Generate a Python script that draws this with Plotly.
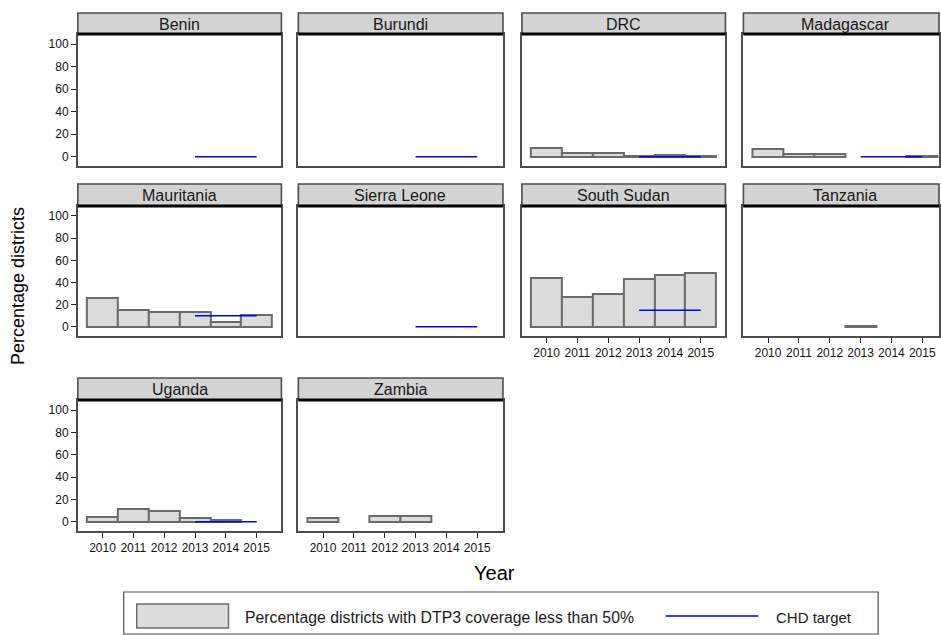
import plotly.graph_objects as go

# Years shown on every panel
years = [2010, 2011, 2012, 2013, 2014, 2015]
tick_labels = ["2010", "2011", "2012", "2013", "2014", "2015"]

# Percentage of districts with DTP3 coverage below 50% (None = no data)
benin = [None, None, None, None, None, None]
burundi = [None, None, None, None, None, None]
drc = [8, 3, 3, 0.3, 1.5, 0.5]
madagascar = [6.5, 2, 2, None, None, 0.3]
mauritania = [26, 15, 13, 13, 4, 11]
sierra_leone = [None, None, None, None, None, None]
south_sudan = [44, 27, 30, 43.5, 46.5, 48.5]
tanzania = [None, None, None, 0.5, None, None]
uganda = [4, 11, 10, 3, 2, None]
zambia = [3, None, 5, 5, None, None]

# CHD target level (drawn over 2013-2015); None = no target
target_years = [2013, 2015]
targets = [0, 0, 0, 0, 10, 0, 15, None, 0, None]

countries = ["Benin", "Burundi", "DRC", "Madagascar", "Mauritania",
             "Sierra Leone", "South Sudan", "Tanzania", "Uganda", "Zambia"]
series = [benin, burundi, drc, madagascar, mauritania,
          sierra_leone, south_sudan, tanzania, uganda, zambia]

W, H = 941, 635


def fx(px):
    return px / W


def fy(py):
    return 1 - py / H


# Panel geometry in pixels
col_x = [(78, 282), (299, 504), (523, 727), (745, 941)]
row_plot = [(34, 166), (206, 336), (400, 531)]
row_strip = [(13, 34), (184, 206), (378, 400)]
px_per_year = 30.9
x_left = 2009.2

FONT = "Liberation Sans, Arial, sans-serif"
BAR_FILL = "#dcdcdc"
BAR_LINE = "#6b6b6b"
FRAME = "#4d4d4d"

fig = go.Figure()
shapes = []
annotations = []
bottom_panels = {6, 7, 8, 9}

for i, (name, vals, tgt) in enumerate(zip(countries, series, targets)):
    r, c = divmod(i, 4)
    ax = "" if i == 0 else str(i + 1)
    xa, ya = "x" + ax, "y" + ax
    x0p, x1p = col_x[c]
    top, bot = row_plot[r]
    x_right = x_left + (x1p - x0p) / px_per_year

    xs = [y for y, v in zip(years, vals) if v is not None]
    ys = [v for v in vals if v is not None]
    if xs:
        fig.add_trace(go.Bar(
            x=xs, y=ys, width=1, xaxis=xa, yaxis=ya,
            marker=dict(color=BAR_FILL, line=dict(color=BAR_LINE, width=2)),
            showlegend=False, hoverinfo="x+y"))
    if tgt is not None:
        fig.add_trace(go.Scatter(
            x=target_years, y=[tgt, tgt], mode="lines", xaxis=xa, yaxis=ya,
            line=dict(color="#0000ff", width=1.5), showlegend=False))

    show_x = i in bottom_panels
    fig.layout["xaxis" + ax] = dict(
        domain=[fx(x0p), fx(x1p)], range=[x_left, x_right], anchor=ya,
        tickmode="array", tickvals=years, ticktext=tick_labels,
        showticklabels=show_x, ticks="outside" if show_x else "",
        ticklen=5, tickwidth=1.3, tickcolor="#222",
        tickfont=dict(family=FONT, size=12, color="#111"),
        showgrid=False, zeroline=False, showline=True, mirror=True,
        linecolor=FRAME, linewidth=1.6)
    show_y = c == 0
    fig.layout["yaxis" + ax] = dict(
        domain=[fy(bot), fy(top)], range=[-8.3, 109], anchor=xa,
        tickmode="array", tickvals=[0, 20, 40, 60, 80, 100],
        showticklabels=show_y, ticks="outside" if show_y else "",
        ticklen=5, tickwidth=1.3, tickcolor="#222",
        tickfont=dict(family=FONT, size=12, color="#111"),
        showgrid=False, zeroline=False, showline=True, mirror=True,
        linecolor=FRAME, linewidth=1.6)

    # Strip header with the country name
    s_top, s_bot = row_strip[r]
    shapes.append(dict(type="rect", xref="paper", yref="paper",
                       x0=fx(x0p), x1=fx(x1p), y0=fy(s_bot), y1=fy(s_top),
                       fillcolor="#d3d3d3", line=dict(color=FRAME, width=1.6)))
    shapes.append(dict(type="line", xref="paper", yref="paper",
                       x0=fx(x0p), x1=fx(x1p), y0=fy(s_bot), y1=fy(s_bot),
                       line=dict(color="black", width=3)))
    annotations.append(dict(text=name, xref="paper", yref="paper",
                            x=fx((x0p + x0p + 204) / 2), y=fy((s_top + s_bot) / 2 + 0.5),
                            xanchor="center", yanchor="middle", showarrow=False,
                            font=dict(family=FONT, size=16, color="#1a1a1a")))

# Axis titles
annotations.append(dict(text="Percentage districts", xref="paper", yref="paper",
                        x=fx(18), y=fy(286), textangle=-90, showarrow=False,
                        xanchor="center", yanchor="middle",
                        font=dict(family=FONT, size=18, color="black")))
annotations.append(dict(text="Year", xref="paper", yref="paper",
                        x=fx(496), y=fy(573), showarrow=False,
                        xanchor="center", yanchor="middle",
                        font=dict(family=FONT, size=20, color="black")))

# Legend box
shapes.append(dict(type="rect", xref="paper", yref="paper",
                   x0=fx(124), x1=fx(880), y0=fy(634), y1=fy(592),
                   fillcolor="white", line=dict(color=FRAME, width=1.2)))
shapes.append(dict(type="rect", xref="paper", yref="paper",
                   x0=fx(137), x1=fx(229), y0=fy(628), y1=fy(604),
                   fillcolor=BAR_FILL, line=dict(color=BAR_LINE, width=1.4)))
shapes.append(dict(type="line", xref="paper", yref="paper",
                   x0=fx(667), x1=fx(760), y0=fy(616), y1=fy(616),
                   line=dict(color="#0000ff", width=1.6)))
annotations.append(dict(text="Percentage districts with DTP3 coverage less than 50%",
                        xref="paper", yref="paper", x=fx(244), y=fy(617),
                        xanchor="left", yanchor="middle", showarrow=False,
                        font=dict(family=FONT, size=15.8, color="#1a1a1a")))
annotations.append(dict(text="CHD target", xref="paper", yref="paper",
                        x=fx(776), y=fy(617), xanchor="left", yanchor="middle",
                        showarrow=False,
                        font=dict(family=FONT, size=15, color="#1a1a1a")))

fig.update_layout(
    width=W, height=H, margin=dict(l=0, r=0, t=0, b=0),
    paper_bgcolor="white", plot_bgcolor="white",
    shapes=shapes, annotations=annotations, bargap=0, showlegend=False)

fig.write_html("out.html")
